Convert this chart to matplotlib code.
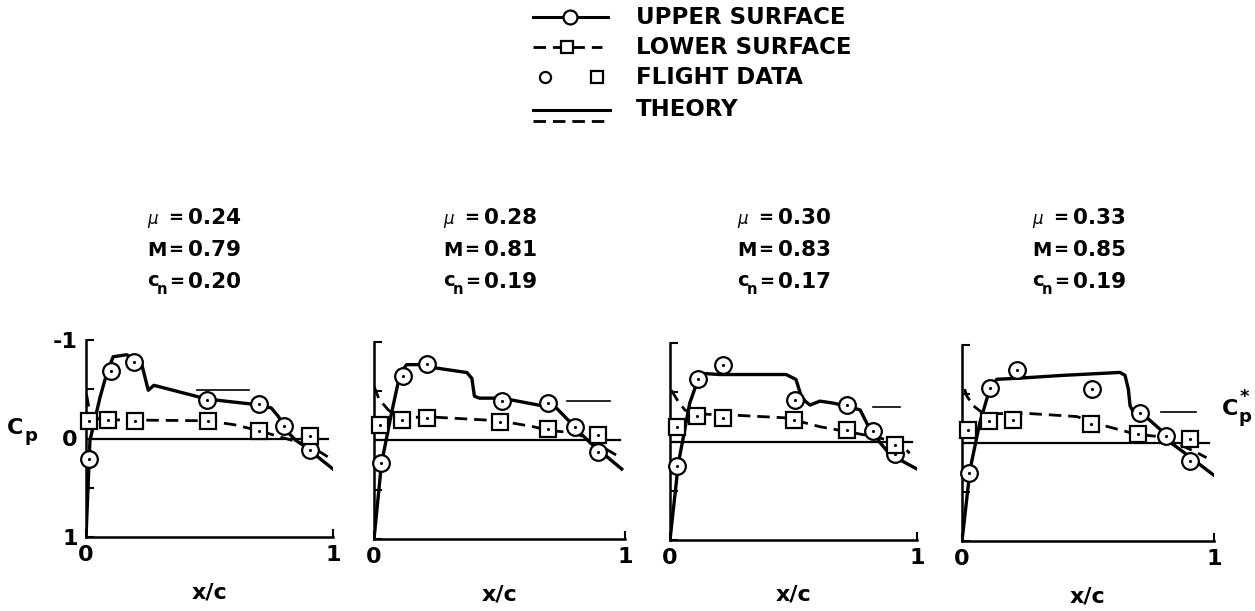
import matplotlib
matplotlib.use("Agg")
import matplotlib.pyplot as plt

plt.rcParams['font.family'] = ['DejaVu Sans']

W, H = 1255, 611

# flight conditions for each panel
mu_vals = ['0.24', '0.28', '0.30', '0.33']
mach_vals = ['0.79', '0.81', '0.83', '0.85']
cn_vals = ['0.20', '0.19', '0.17', '0.19']

# flight data, upper surface (circles)
upper_x = [
    [0.013, 0.10, 0.195, 0.49, 0.70, 0.80, 0.907],
    [0.028, 0.117, 0.21, 0.51, 0.695, 0.80, 0.894],
    [0.03, 0.115, 0.216, 0.506, 0.715, 0.82, 0.91],
    [0.029, 0.11, 0.217, 0.517, 0.706, 0.81, 0.905],
]
upper_cp = [
    [0.21, -0.69, -0.78, -0.39, -0.35, -0.13, 0.12],
    [0.23, -0.65, -0.78, -0.40, -0.38, -0.14, 0.12],
    [0.25, -0.63, -0.78, -0.42, -0.37, -0.11, 0.13],
    [0.31, -0.56, -0.74, -0.55, -0.31, -0.075, 0.18],
]

# flight data, lower surface (squares)
lower_x = [
    [0.013, 0.088, 0.198, 0.495, 0.70, 0.907],
    [0.024, 0.11, 0.21, 0.50, 0.695, 0.894],
    [0.027, 0.108, 0.216, 0.50, 0.715, 0.91],
    [0.025, 0.108, 0.204, 0.51, 0.70, 0.905],
]
lower_cp = [
    [-0.18, -0.19, -0.18, -0.18, -0.075, -0.03],
    [-0.16, -0.21, -0.23, -0.19, -0.12, -0.06],
    [-0.15, -0.26, -0.24, -0.22, -0.12, 0.04],
    [-0.13, -0.22, -0.23, -0.19, -0.09, -0.04],
]

# theory, upper surface
theory_up_x = [
    [0.0, 0.016, 0.057, 0.084, 0.11, 0.165, 0.225, 0.252, 0.275, 0.49, 0.705, 0.75, 0.78, 0.81, 0.85, 0.88, 1.0],
    [0.0, 0.03, 0.07, 0.104, 0.13, 0.183, 0.236, 0.37, 0.39, 0.40, 0.42, 0.51, 0.675, 0.715, 0.78, 0.82, 0.86, 0.987],
    [0.0, 0.034, 0.08, 0.115, 0.14, 0.20, 0.47, 0.51, 0.53, 0.547, 0.567, 0.607, 0.66, 0.715, 0.77, 0.80, 0.85, 0.89, 1.0],
    [0.0, 0.032, 0.071, 0.11, 0.138, 0.217, 0.40, 0.627, 0.647, 0.66, 0.667, 0.687, 0.733, 0.786, 0.825, 0.88, 1.0],
]
theory_up_cp = [
    [1.0, 0.02, -0.42, -0.66, -0.83, -0.85, -0.76, -0.49, -0.54, -0.40, -0.34, -0.31, -0.22, -0.08, 0.02, 0.07, 0.31],
    [1.0, 0.23, -0.28, -0.68, -0.77, -0.77, -0.74, -0.69, -0.63, -0.45, -0.43, -0.43, -0.35, -0.36, -0.19, -0.08, 0.02, 0.29],
    [1.0, 0.22, -0.39, -0.64, -0.69, -0.68, -0.68, -0.63, -0.47, -0.41, -0.37, -0.41, -0.39, -0.36, -0.32, -0.17, 0.01, 0.13, 0.28],
    [1.0, 0.27, -0.21, -0.55, -0.65, -0.66, -0.69, -0.72, -0.69, -0.55, -0.38, -0.28, -0.26, -0.14, -0.01, 0.095, 0.33],
]

# theory, lower surface
theory_lo_x = [
    [0.002, 0.016, 0.05, 0.09, 0.49, 0.60, 0.70, 0.78, 0.85, 0.90, 0.95, 1.0],
    [0.0, 0.02, 0.057, 0.097, 0.22, 0.50, 0.635, 0.70, 0.795, 0.85, 0.92, 0.98],
    [0.005, 0.03, 0.06, 0.10, 0.24, 0.47, 0.607, 0.74, 0.82, 0.93, 0.97],
    [0.01, 0.019, 0.045, 0.085, 0.27, 0.455, 0.56, 0.69, 0.80, 0.93, 0.97],
]
theory_lo_cp = [
    [-0.45, -0.25, -0.20, -0.19, -0.18, -0.14, -0.08, -0.02, 0.03, 0.08, 0.14, 0.22],
    [-0.55, -0.42, -0.31, -0.23, -0.24, -0.20, -0.14, -0.10, -0.08, -0.02, 0.08, 0.17],
    [-0.52, -0.42, -0.32, -0.28, -0.27, -0.24, -0.15, -0.09, -0.05, 0.01, 0.12],
    [-0.55, -0.48, -0.38, -0.30, -0.30, -0.27, -0.18, -0.09, -0.06, 0.095, 0.15],
]

# critical pressure coefficient and the chord range of its marker line
cp_star = [-0.49, -0.40, -0.35, -0.32]
cp_star_x = [(0.45, 0.66), (0.77, 0.94), (0.82, 0.93), (0.79, 0.93)]

# panel boxes in pixels: left, right, top, bottom
boxes = [(86, 333, 340, 537), (374, 625, 342, 539), (670, 917, 343, 540), (962, 1214, 345, 541)]
text_left = [147, 443, 737, 1032]

fig = plt.figure(figsize=(W / 100, H / 100), dpi=100)

# overlay in pixel coordinates for the key and the annotations
lax = fig.add_axes([0, 0, 1, 1])
lax.set_xlim(0, W)
lax.set_ylim(H, 0)
lax.axis('off')

bold = dict(fontweight='bold', color='black')
dash = (0, (4.5, 2.5))

# key
lax.plot([533, 608], [17, 17], color='black', lw=2.2)
lax.plot([570], [17], marker='o', ms=10, mfc='white', mec='black', mew=1.6)
lax.plot([533, 602], [47, 47], color='black', lw=2.0, linestyle=dash)
lax.plot([567], [47], marker='s', ms=9, mfc='white', mec='black', mew=1.6)
lax.plot([545], [77], marker='o', ms=8, mfc='white', mec='black', mew=1.6, ls='none')
lax.plot([597], [77], marker='s', ms=8, mfc='white', mec='black', mew=1.6, ls='none')
lax.plot([533, 610], [110, 110], color='black', lw=2.2)
lax.plot([533, 610], [121, 121], color='black', lw=2.0, linestyle=dash)
for y, s in zip([17, 47, 77, 110], ['UPPER SURFACE', 'LOWER SURFACE', 'FLIGHT DATA', 'THEORY']):
    lax.text(636, y, s, fontsize=16.5, va='center', ha='left', **bold)

for i in range(4):
    x0 = text_left[i]
    lax.text(x0, 219, '\u03bc', fontsize=12, style='italic', va='center', ha='left')
    lax.text(x0, 250, 'M', fontsize=14, va='center', ha='left', **bold)
    lax.text(x0, 280, 'c', fontsize=14, va='center', ha='left', **bold)
    lax.text(x0 + 10, 289, 'n', fontsize=10.5, va='center', ha='left', **bold)
    for y, v, ex in zip([218, 250, 282], [mu_vals[i], mach_vals[i], cn_vals[i]], [29, 29, 30]):
        lax.text(x0 + ex, y, '=', fontsize=13, va='center', ha='center', **bold)
        lax.text(x0 + 41, y, v, fontsize=15.5, va='center', ha='left', **bold)

# axis symbol on the left and the critical value label on the right
lax.text(7, 428, 'C', fontsize=16, va='center', ha='left', **bold)
lax.text(24, 436, 'p', fontsize=13, va='center', ha='left', **bold)
lax.text(1222, 409, 'C', fontsize=16, va='center', ha='left', **bold)
lax.text(1239, 417, 'p', fontsize=13, va='center', ha='left', **bold)
lax.text(1240, 397, '*', fontsize=13, va='center', ha='left', **bold)

for i, (l, r, t, b) in enumerate(boxes):
    ax = fig.add_axes([l / W, 1 - b / H, (r - l) / W, (b - t) / H])
    ax.set_xlim(0, 1)
    ax.set_ylim(1, -1)
    ax.patch.set_alpha(0)
    for side in ['top', 'right']:
        ax.spines[side].set_visible(False)
    for side in ['left', 'bottom']:
        ax.spines[side].set_linewidth(1.8)

    ax.set_yticks([-1, -0.5, 0, 0.5, 1])
    ax.set_xticks([0, 1])
    ax.tick_params(direction='in', length=6, width=1.5, labelsize=16, pad=6)
    ax.set_xticklabels(['0', '1'], fontweight='bold')
    if i == 0:
        ax.set_yticklabels(['-1', '', '0', '', '1'], fontweight='bold')
    else:
        ax.set_yticklabels([''] * 5)
    ax.set_xlabel('x/c', fontsize=16, fontweight='bold', labelpad=12)

    ax.axhline(0, xmin=0, xmax=0.98, color='black', lw=1.6)
    ax.plot(list(cp_star_x[i]), [cp_star[i]] * 2, color='black', lw=1.2)

    ax.plot(theory_up_x[i], theory_up_cp[i], color='black', lw=2.4, solid_joinstyle='round')
    ax.plot(theory_lo_x[i], theory_lo_cp[i], color='black', lw=2.0, linestyle=dash)

    ax.plot(upper_x[i], upper_cp[i], ls='none', marker='o', ms=12, mfc='white',
            mec='black', mew=1.6, clip_on=False, zorder=5)
    ax.plot(lower_x[i], lower_cp[i], ls='none', marker='s', ms=11, mfc='white',
            mec='black', mew=1.6, clip_on=False, zorder=5)
    ax.plot(upper_x[i] + lower_x[i], upper_cp[i] + lower_cp[i], ls='none', marker='.',
            ms=2.5, color='black', clip_on=False, zorder=6)

fig.savefig('out.png', dpi=100)
